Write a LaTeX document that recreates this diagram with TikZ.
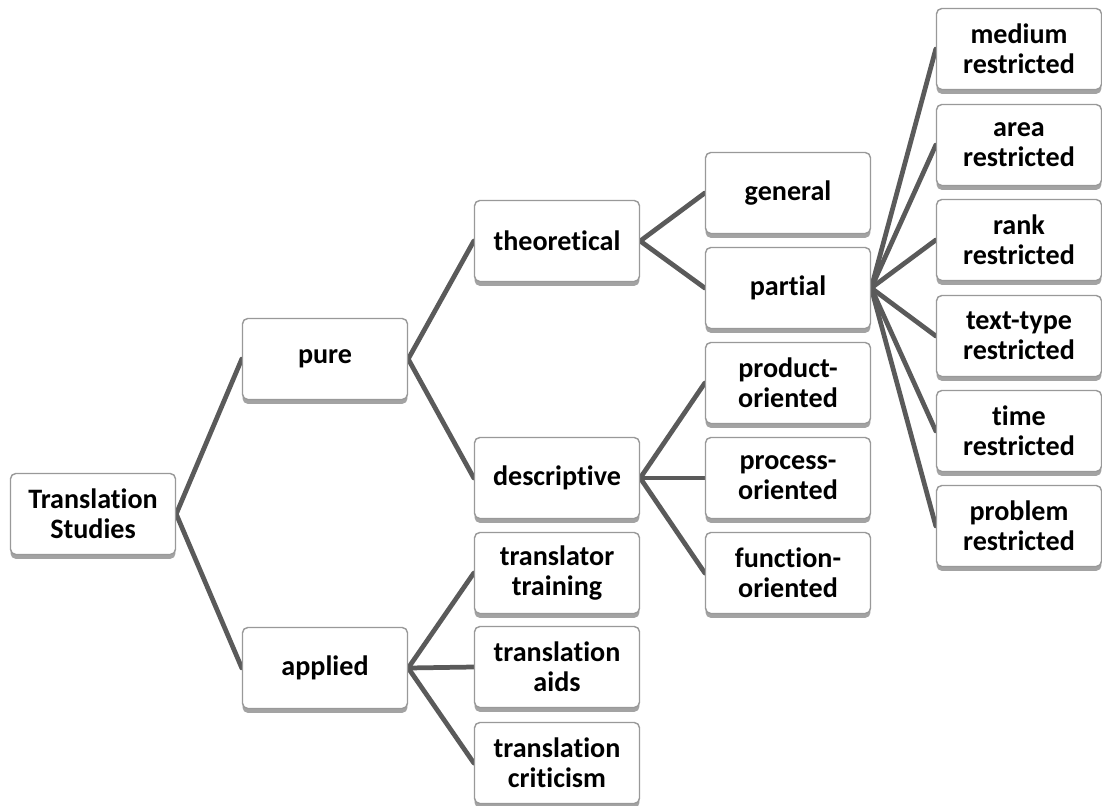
\documentclass[tikz,border=0pt]{standalone}
\usepackage{fontspec}
\setmainfont{Carlito}[Ligatures=NoCommon]
\usetikzlibrary{shadows,backgrounds}
\definecolor{linegray}{HTML}{5A5A5A}
\definecolor{boxborder}{HTML}{999999}
\begin{document}
\begin{tikzpicture}[x=0.02cm,y=-0.02cm,
  box/.style={draw=boxborder, line width=0.8pt, fill=white, rounded corners=3pt,
    minimum width=3.3cm, minimum height=1.62cm, align=center, inner sep=0pt,
    font=\bfseries\fontsize{16}{17}\selectfont,
    drop shadow={shadow xshift=0pt, shadow yshift=-2.5pt, fill=black!60, opacity=0.6}},
  link/.style={draw=linegray, line width=2.7pt, line cap=round}]
\useasboundingbox (0,0) rectangle (1102,805);
% level 0
\node[box] (ts) at (93,514) {Translation\\Studies};
% level 1
\node[box] (pure) at (325,359) {pure};
\node[box] (applied) at (325,668) {applied};
% level 2
\node[box] (theo) at (557,241) {theoretical};
\node[box] (desc) at (557,478) {descriptive};
\node[box] (ttrain) at (557,573) {translator\\training};
\node[box] (taids) at (557,667) {translation\\aids};
\node[box] (tcrit) at (557,763) {translation\\criticism};
% level 3
\node[box] (gen) at (788,193) {general};
\node[box] (part) at (788,288) {partial};
\node[box] (prod) at (788,383) {product-\\oriented};
\node[box] (proc) at (788,478) {process-\\oriented};
\node[box] (func) at (788,573) {function-\\oriented};
% level 4
\node[box] (med) at (1019,49) {medium\\restricted};
\node[box] (area) at (1019,145) {area\\restricted};
\node[box] (rank) at (1019,240) {rank\\restricted};
\node[box] (ttype) at (1019,336) {text-type\\restricted};
\node[box] (time) at (1019,431) {time\\restricted};
\node[box] (prob) at (1019,526) {problem\\restricted};
\begin{scope}[on background layer]
\draw[link] (ts.east) -- (pure.west);
\draw[link] (ts.east) -- (applied.west);
\draw[link] (pure.east) -- (theo.west);
\draw[link] (pure.east) -- (desc.west);
\draw[link] (applied.east) -- (ttrain.west);
\draw[link] (applied.east) -- (taids.west);
\draw[link] (applied.east) -- (tcrit.west);
\draw[link] (theo.east) -- (gen.west);
\draw[link] (theo.east) -- (part.west);
\draw[link] (desc.east) -- (prod.west);
\draw[link] (desc.east) -- (proc.west);
\draw[link] (desc.east) -- (func.west);
\draw[link] (part.east) -- (med.west);
\draw[link] (part.east) -- (area.west);
\draw[link] (part.east) -- (rank.west);
\draw[link] (part.east) -- (ttype.west);
\draw[link] (part.east) -- (time.west);
\draw[link] (part.east) -- (prob.west);
\end{scope}
\end{tikzpicture}
\end{document}
